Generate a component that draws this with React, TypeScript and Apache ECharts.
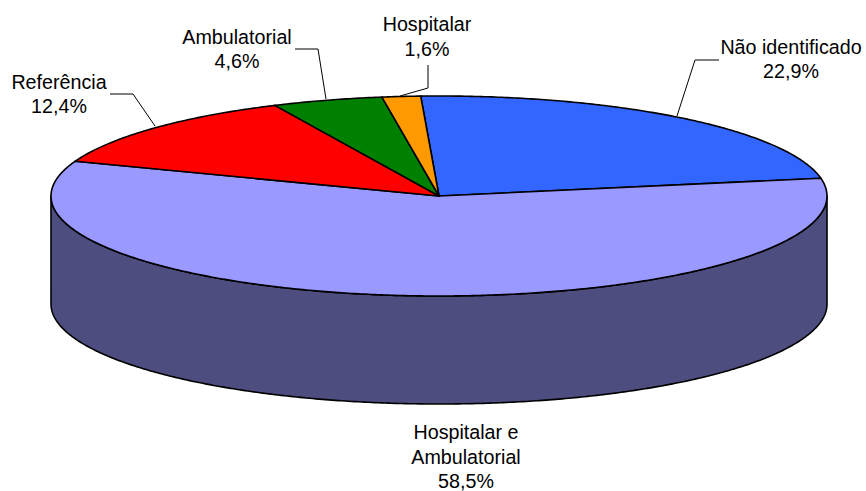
import React, { useEffect, useRef } from "react";
import * as echarts from "echarts";

const names = ["Não identificado", "Hospitalar e\nAmbulatorial", "Referência", "Ambulatorial", "Hospitalar"];
const values = [22.9, 58.5, 12.4, 4.6, 1.6];
const colors = ["#3366FF", "#9999FF", "#FF0000", "#008000", "#FF9900"];
const labelCentres = [[791, 59], [466, 456.5], [59, 94], [237, 49], [427, 36.5]];
const leaders = [
  [[719, 60], [695, 60], [677, 116]],
  [],
  [[110, 94], [133, 94], [155, 126]],
  [[295, 49], [318, 49], [326, 99]],
  [[428, 65], [428, 88], [400, 96]],
];

const CX = 439, CY = 196, RX = 388, RY = 100, DEPTH = 108;
const START_DEG = -2.7;
const SIDE = "#4D4D80";
const total = values.reduce((a, b) => a + b, 0);

const rimPoint = (deg: number, dy = 0) => {
  const t = (deg * Math.PI) / 180;
  return [CX + RX * Math.sin(t), CY - RY * Math.cos(t) + dy];
};
const arc = (from: number, to: number, dy = 0) => {
  const pts: number[][] = [];
  const n = Math.max(2, Math.ceil(Math.abs(to - from) * 2));
  for (let i = 0; i <= n; i++) pts.push(rimPoint(from + ((to - from) * i) / n, dy));
  return pts;
};

function renderSlice(params: any, api: any) {
  const i = params.dataIndex;
  const before = values.slice(0, i).reduce((a, b) => a + b, 0);
  const a0 = START_DEG + (before / total) * 360;
  const a1 = a0 + (api.value(0) / total) * 360;
  const children: any[] = [];
  const f0 = Math.max(a0, 90), f1 = Math.min(a1, 270);
  if (f1 > f0) {
    children.push({
      type: "polygon",
      shape: { points: [...arc(f0, f1), ...arc(f1, f0, DEPTH)] },
      style: { fill: SIDE, stroke: "#000", lineWidth: 1.6, lineJoin: "round" },
    });
  }
  children.push({
    type: "polygon",
    shape: { points: [[CX, CY], ...arc(a0, a1)] },
    style: { fill: colors[i], stroke: "#000", lineWidth: 1.6, lineJoin: "round" },
  });
  return { type: "group", children };
}

export default function App() {
  const ref = useRef<HTMLDivElement>(null);
  useEffect(() => {
    const chart = echarts.init(ref.current!, undefined, { renderer: "svg" });
    chart.setOption({
      animation: false,
      backgroundColor: "#fff",
      series: [
        {
          type: "custom",
          coordinateSystem: "none",
          silent: true,
          data: values.map((v) => [v]),
          renderItem: renderSlice,
        },
      ],
      graphic: [
        ...leaders
          .filter((l) => l.length)
          .map((l) => ({
            type: "polyline",
            silent: true,
            shape: { points: l },
            style: { fill: "none", stroke: "#000", lineWidth: 1 },
          })),
        ...names.map((name, i) => ({
          type: "text",
          silent: true,
          x: labelCentres[i][0],
          y: labelCentres[i][1],
          style: {
            text: `${name}\n${values[i].toFixed(1).replace(".", ",")}%`,
            fontFamily: "Liberation Sans",
            fontSize: 19.7,
            lineHeight: 24.5,
            fill: "#000",
            align: "center",
            verticalAlign: "middle",
          },
        })),
      ],
    });
    return () => chart.dispose();
  }, []);
  return <div ref={ref} style={{ position: "absolute", left: 0, top: 0, width: 866, height: 491 }} />;
}
